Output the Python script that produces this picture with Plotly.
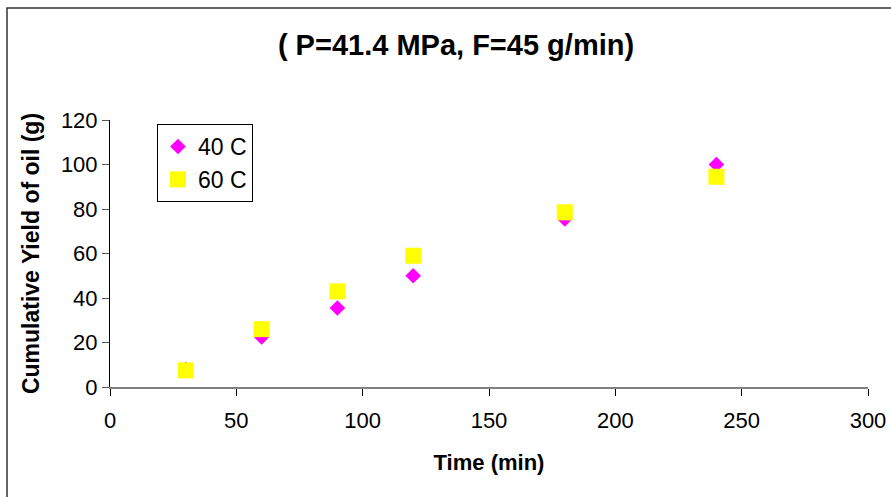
import plotly.graph_objects as go

time_min = [30, 60, 90, 120, 180, 240]
yield_40C = [8, 22.5, 35.5, 50, 75.5, 100]
yield_60C = [7.5, 26, 43, 59, 78.5, 94.5]
series_names = ["40 C", "60 C"]
title_text = "( P=41.4 MPa, F=45 g/min)"
x_title = "Time (min)"
y_title = "Cumulative Yield of oil (g)"

FONT = "Liberation Sans, Arial, sans-serif"
W, H = 891, 497
# plot area in page pixels: x 110..868, y 120..387
L, T = 110, 120
R = W - 868
B = H - 387

fig = go.Figure()
fig.add_trace(go.Scatter(
    x=time_min, y=yield_40C, mode="markers", name=series_names[0],
    marker=dict(symbol="diamond", size=12, color="#FF00FF", line=dict(width=0)),
    legendgroup="a"))
fig.add_trace(go.Scatter(
    x=time_min, y=yield_60C, mode="markers", name=series_names[1],
    marker=dict(symbol="square", size=16, color="#FFFF00", line=dict(width=0)),
    legendgroup="b"))

pw = W - L - R
ph = H - T - B
def px_x(p):
    return (p - L) / pw
def px_y(p):
    return (H - B - p) / ph

# outer chart-area border (top and left edges visible)
fig.add_shape(type="rect", xref="paper", yref="paper",
              x0=px_x(7), x1=px_x(W + 20),
              y0=px_y(H + 20), y1=px_y(8),
              line=dict(color="#333333", width=1.5), fillcolor="rgba(0,0,0,0)",
              layer="below")

fig.update_layout(
    width=W, height=H, autosize=False,
    margin=dict(l=L, r=R, t=T, b=B, pad=0),
    paper_bgcolor="white", plot_bgcolor="white",
    font=dict(family=FONT, color="black", size=22),
    title=dict(text=title_text, x=456 / W, xanchor="center",
               y=1 - 45 / H, yanchor="middle", yref="container",
               automargin=False,
               font=dict(family=FONT, size=29, color="black", weight="bold")),
    showlegend=True,
    legend=dict(x=px_x(157), y=px_y(124), xanchor="left", yanchor="top",
                bordercolor="black", borderwidth=1, bgcolor="white",
                font=dict(family=FONT, size=23), itemwidth=30,
                tracegroupgap=0, traceorder="normal"),
    xaxis=dict(range=[0, 300], tickvals=[0, 50, 100, 150, 200, 250, 300],
               automargin=False,
               showgrid=False, zeroline=False, showline=True,
               linecolor="#808080", linewidth=1.5,
               ticks="outside", ticklen=7, tickcolor="black", tickwidth=1,
               ticklabelstandoff=6,
               tickfont=dict(family=FONT, size=22),
               title=dict(text=x_title, standoff=22,
                          font=dict(family=FONT, size=22, weight="bold"))),
    yaxis=dict(range=[0, 120], tickvals=[0, 20, 40, 60, 80, 100, 120],
               automargin=False,
               showgrid=False, zeroline=False, showline=True,
               linecolor="black", linewidth=1,
               ticks="outside", ticklen=7, tickcolor="#555555", tickwidth=1,
               tickfont=dict(family=FONT, size=22),
               title=dict(text=y_title, standoff=14,
                          font=dict(family=FONT, size=23, weight="bold"))),
)

fig.write_html("out.html",
               config={"displayModeBar": False},
               post_script="document.body.style.margin='0';"
                           "document.body.style.overflow='hidden';")
